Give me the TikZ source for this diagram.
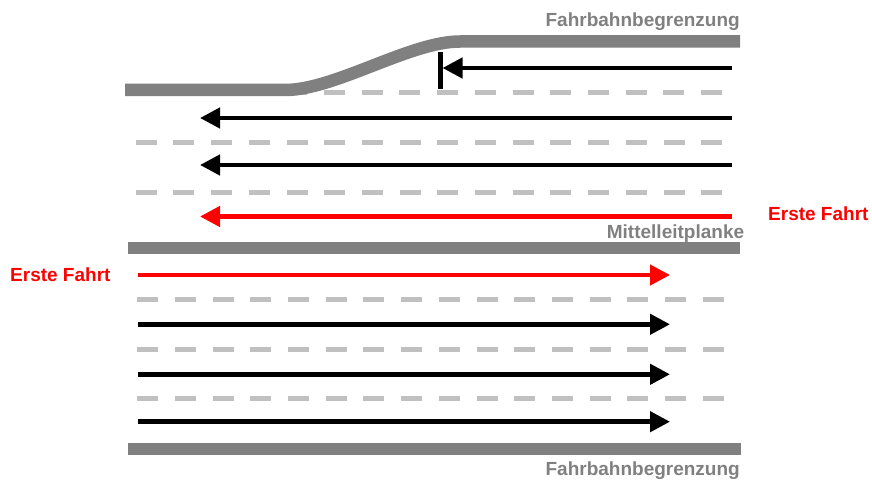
\documentclass[tikz,border=0pt]{standalone}
\usepackage{fontspec}
\setmainfont{Liberation Sans}
\usetikzlibrary{arrows.meta}
\definecolor{bahngrau}{HTML}{808080}
\definecolor{strichgrau}{HTML}{C0C0C0}
\begin{document}
\begin{tikzpicture}[x=1pt, y=-1pt,
  bahn/.style = {line width=12.5pt, color=bahngrau},
  markierung/.style = {line width=5pt, color=strichgrau, dash pattern=on 21pt off 16.7pt},
  fahrt/.style = {line width=4.5pt, -{Triangle[length=20pt, width=20pt]}},
  beschriftung/.style = {font=\fontsize{19}{22}\selectfont\bfseries, inner sep=0pt}]
\useasboundingbox (0,0) rectangle (872,481);
% Leitlinien
\draw[markierung] (286.3,92.5) -- (722.2,92.5);
\draw[markierung] (135.7,143) -- (722.2,143);
\draw[markierung] (135.7,192.5) -- (722.2,192.5);
\draw[markierung] (137.2,299.5) -- (723.7,299.5);
\draw[markierung] (137.2,349) -- (723.7,349);
\draw[markierung] (137.2,398.5) -- (723.7,398.5);
% Fahrbahnbegrenzung und Mittelleitplanke
\draw[bahn] (125,90) -- (285,90) .. controls (335,90) and (410,41.5) .. (460,41.5) -- (740,41.5);
\draw[bahn] (128,248) -- (740,248);
\draw[bahn] (128,449) -- (741,449);
% Haltelinie
\coordinate (halt oben) at (440,52);
\coordinate (halt unten) at (440,89);
\draw[line width=5pt] (halt oben) -- (halt unten);
% Fahrten
\draw[fahrt] (732,68) -- (442.5,68);
\draw[fahrt] (732,118) -- (200,118);
\draw[fahrt] (732,165) -- (200,165);
\draw[fahrt, red] (732,216.5) -- (200,216.5);
\draw[fahrt, red] (138,275) -- (670,275);
\draw[fahrt] (138,324.3) -- (670,324.3);
\draw[fahrt] (138,374.3) -- (670,374.3);
\draw[fahrt] (138,421.7) -- (670,421.7);
% Beschriftungen
\node[beschriftung, text=bahngrau, anchor=base east] (oben) at (740,26.5) {Fahrbahnbegrenzung};
\node[beschriftung, text=bahngrau, anchor=base] (mitte) at (675.5,238) {Mittelleitplanke};
\node[beschriftung, text=red, anchor=base west] (erste rechts) at (768,220) {Erste Fahrt};
\node[beschriftung, text=red, anchor=base west] (erste links) at (10,281.7) {Erste Fahrt};
\node[beschriftung, text=bahngrau, anchor=base east] (unten) at (740,475) {Fahrbahnbegrenzung};
\end{tikzpicture}
\end{document}
